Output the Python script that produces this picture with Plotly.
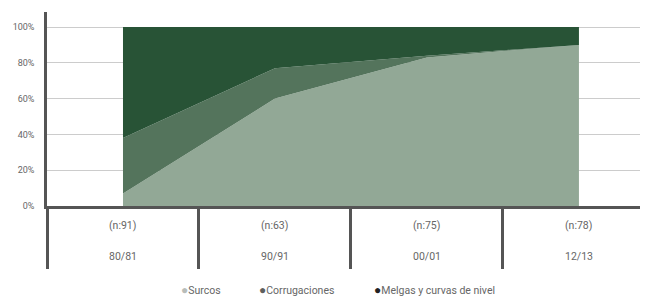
import plotly.graph_objects as go

periods = ["80/81", "90/91", "00/01", "12/13"]
sample_sizes = ["(n:91)", "(n:63)", "(n:75)", "(n:78)"]
surcos = [7, 60, 83, 90]
corrugaciones = [31, 17, 1, 0]
melgas = [62, 23, 16, 10]

series = [
    ("Surcos", surcos, "#92a896", "#b8bdb9"),
    ("Corrugaciones", corrugaciones, "#54745c", "#5e605e"),
    ("Melgas y curvas de nivel", melgas, "#285336", "#222222"),
]
legend_x = [0.2168, 0.345, 0.534]

FONT = "Roboto"
LABEL_COLOR = "#666666"
fig = go.Figure()
for name, vals, col, _ in series:
    fig.add_trace(go.Scatter(
        x=periods, y=vals, name=name, stackgroup="one", mode="lines",
        line=dict(width=0, color=col), fillcolor=col, showlegend=False,
        hoverinfo="skip"))

annotations = []
for p, n in zip(periods, sample_sizes):
    annotations.append(dict(x=p, y=-0.098, xref="x", yref="paper", text=n, showarrow=False,
                            font=dict(family=FONT, size=10.5, color=LABEL_COLOR), yanchor="middle"))
    annotations.append(dict(x=p, y=-0.258, xref="x", yref="paper", text=p, showarrow=False,
                            font=dict(family=FONT, size=10.5, color=LABEL_COLOR), yanchor="middle"))
for (name, _, _, mcol), lx in zip(series, legend_x):
    annotations.append(dict(
        x=lx, y=-0.432, xref="paper", yref="paper", xanchor="left", yanchor="middle",
        showarrow=False,
        text=f"<span style='color:{mcol};font-size:12px'>●</span>{name}",
        font=dict(family=FONT, size=10.5, color=LABEL_COLOR)))

fig.update_layout(
    width=648, height=298,
    margin=dict(l=39, r=0, t=4, b=100, autoexpand=False),
    plot_bgcolor="white", paper_bgcolor="white",
    font=dict(family=FONT, size=9, color=LABEL_COLOR),
    annotations=annotations,
    showlegend=False,
    xaxis=dict(type="category", range=[-0.5, 3.507], showgrid=False, zeroline=False,
               showline=True, linecolor="#555555", linewidth=3,
               tickson="boundaries", ticks="outside", ticklen=60, tickwidth=2.5,
               tickcolor="#555555", showticklabels=False),
    yaxis=dict(range=[0, 108.4], tickvals=[0, 20, 40, 60, 80, 100],
               ticktext=["0%", "20%", "40%", "60%", "80%", "100%"],
               showgrid=True, gridcolor="#cccccc", gridwidth=1, zeroline=False,
               showline=True, linecolor="#555555", linewidth=2.5,
               ticks="outside", ticklen=8, tickcolor="rgba(0,0,0,0)",
               tickfont=dict(family=FONT, size=9, color=LABEL_COLOR)),
)

fig.write_html("out.html")
